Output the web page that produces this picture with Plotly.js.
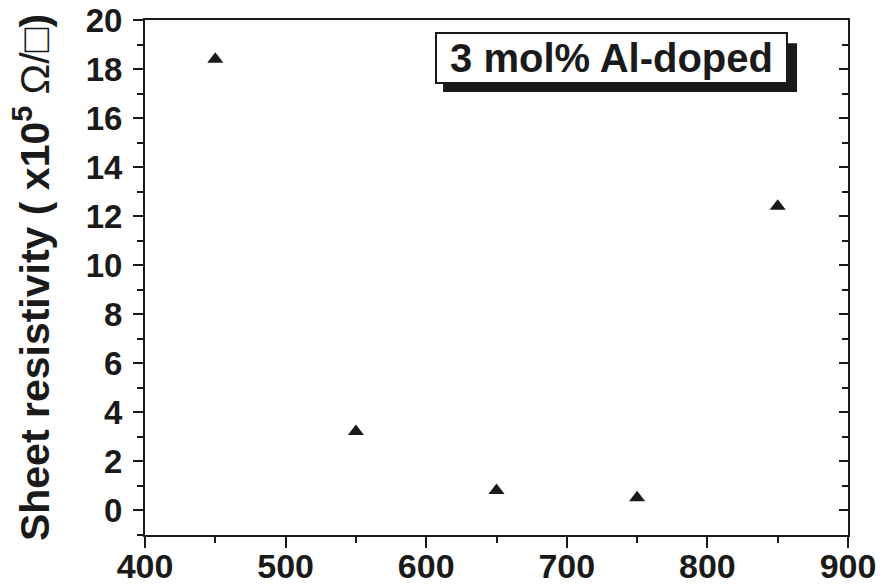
<!DOCTYPE html>
<html>
<head>
<meta charset="utf-8">
<script src="https://cdn.plot.ly/plotly-3.0.1.min.js"></script>
<style>html,body{margin:0;padding:0;background:#fff;}#chart{width:885px;height:587px;}</style>
</head>
<body>
<div id="chart"></div>
<script>
// Data
const temperatures = [450, 550, 650, 750, 850];
const sheetResistivity = [18.4, 3.2, 0.8, 0.5, 12.4];
const xTickValues = [400, 500, 600, 700, 800, 900];
const yTickValues = [0, 2, 4, 6, 8, 10, 12, 14, 16, 18, 20];
const labelText = "3 mol% Al-doped";
const yTitleText = "Sheet resistivity ( x10<sup>5</sup> <span style=\"font-weight:normal\">Ω/□</span>)";

const fontFam = "Liberation Sans, Arial, sans-serif";
const ink = "#1a1a1a";

const traces = [
  {
    x: temperatures, y: sheetResistivity, type: "scatter", mode: "markers",
    marker: {symbol: "triangle-up", size: 14, color: ink},
    hoverinfo: "x+y", showlegend: false
  },
  {
    x: temperatures, y: sheetResistivity, type: "scatter", mode: "markers",
    yaxis: "y2", marker: {opacity: 0}, hoverinfo: "skip", showlegend: false
  }
];

const layout = {
  width: 885, height: 587,
  margin: {l: 145, r: 37, t: 20, b: 52},
  paper_bgcolor: "#fff", plot_bgcolor: "#fff",
  font: {family: fontFam, color: ink},
  xaxis: {
    range: [400, 900], tickvals: xTickValues, ticktext: xTickValues.map(String),
    ticks: "outside", ticklen: 11, tickwidth: 2, tickcolor: ink,
    minor: {dtick: 50, tick0: 400, ticks: "outside", ticklen: 6, tickwidth: 2, tickcolor: ink},
    showline: true, linewidth: 2, linecolor: ink, mirror: true,
    showgrid: false, zeroline: false,
    tickfont: {family: fontFam, size: 34, weight: 700, color: ink},
    ticklabelstandoff: -11,
    automargin: false,
    fixedrange: true
  },
  yaxis: {
    range: [-1.02, 20], tickvals: yTickValues, ticktext: yTickValues.map(String),
    ticks: "outside", ticklen: 10, tickwidth: 2, tickcolor: ink,
    minor: {dtick: 1, tick0: 0, ticks: "outside", ticklen: 6, tickwidth: 2, tickcolor: ink},
    showline: true, linewidth: 2, linecolor: ink, mirror: false,
    showgrid: false, zeroline: false,
    tickfont: {family: fontFam, size: 33, weight: 700, color: ink},
    ticklabelstandoff: 4,
    title: {text: yTitleText, font: {family: fontFam, size: 41, weight: 700, color: ink}, standoff: 23},
    automargin: false,
    fixedrange: true
  },
  yaxis2: {
    overlaying: "y", side: "right", range: [-1.02, 20], tickvals: yTickValues,
    showticklabels: false,
    ticks: "inside", ticklen: 9, tickwidth: 2, tickcolor: ink,
    minor: {dtick: 1, tick0: 0, ticks: "inside", ticklen: 6, tickwidth: 2, tickcolor: ink},
    showline: true, linewidth: 2, linecolor: ink,
    showgrid: false, zeroline: false, fixedrange: true
  },
  shapes: [
    {type: "rect", xref: "paper", yref: "paper", x0: 0.424, x1: 0.9275, y0: 0.860, y1: 0.955,
     fillcolor: ink, line: {width: 0}, layer: "above"}
  ],
  annotations: [
    {xref: "paper", yref: "paper", x: 0.6636, y: 0.926, xanchor: "center", yanchor: "middle",
     text: labelText, showarrow: false, bgcolor: "#fff", bordercolor: ink, borderwidth: 2, borderpad: 2,
     width: 345, height: 44,
     font: {family: fontFam, size: 40, weight: 700, color: ink}}
  ]
};

Plotly.newPlot("chart", traces, layout, {displayModeBar: false, staticPlot: true});
</script>
</body>
</html>
